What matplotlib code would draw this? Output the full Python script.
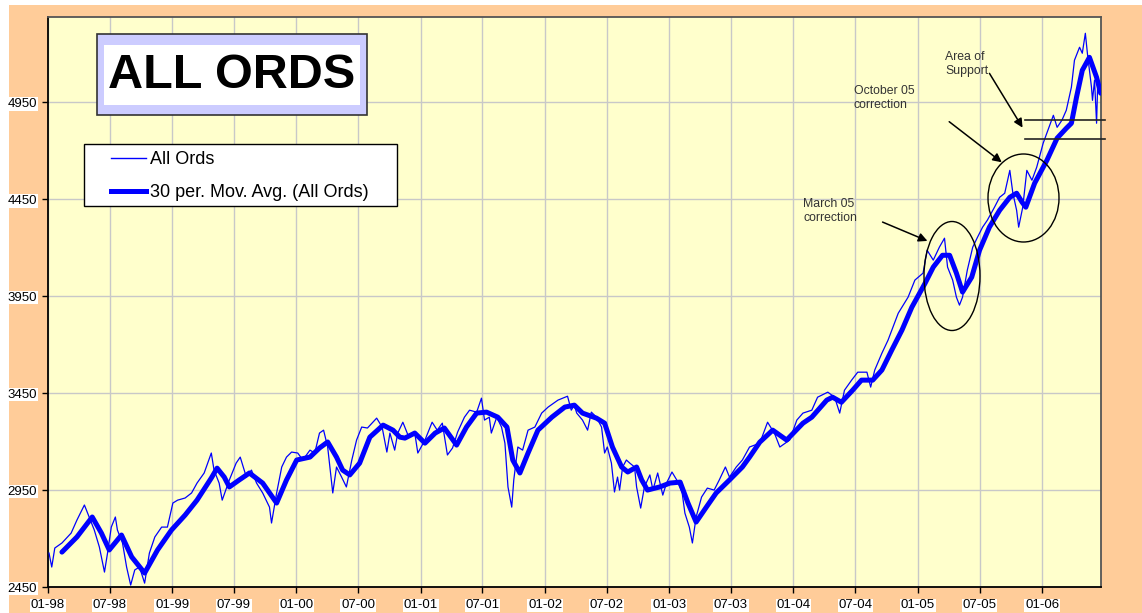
import matplotlib
matplotlib.use("Agg")
import matplotlib.pyplot as plt
import matplotlib.dates as mdates
from matplotlib.patches import Rectangle, Ellipse, FancyArrowPatch
from matplotlib.lines import Line2D
import pandas as pd

plt.rcParams["font.family"] = ["Liberation Sans", "DejaVu Sans"]

# All Ords daily close
raw_dates = [
    "1998-01-04", "1998-01-12", "1998-01-21", "1998-02-11", "1998-03-10", "1998-03-27",
    "1998-04-18", "1998-05-02", "1998-05-17", "1998-06-01", "1998-06-16", "1998-06-25",
    "1998-07-06", "1998-07-18", "1998-07-24", "1998-08-08", "1998-08-20", "1998-09-01",
    "1998-09-13", "1998-09-27", "1998-10-12", "1998-10-26", "1998-11-11", "1998-12-01",
    "1998-12-18", "1999-01-03", "1999-01-17", "1999-02-08", "1999-02-27", "1999-03-15",
    "1999-04-05", "1999-04-26", "1999-05-04", "1999-05-19", "1999-05-28", "1999-06-18",
    "1999-07-08", "1999-07-20", "1999-08-07", "1999-08-22", "1999-09-06", "1999-09-24",
    "1999-10-14", "1999-10-20", "1999-11-04", "1999-11-19", "1999-12-03", "1999-12-18",
    "2000-01-05", "2000-01-20", "2000-02-10", "2000-02-24", "2000-03-09", "2000-03-21",
    "2000-04-02", "2000-04-17", "2000-04-28", "2000-05-13", "2000-05-27", "2000-06-12",
    "2000-06-26", "2000-07-11", "2000-07-28", "2000-08-24", "2000-09-09", "2000-09-23",
    "2000-10-02", "2000-10-16", "2000-10-25", "2000-11-09", "2000-11-24", "2000-12-14",
    "2000-12-23", "2001-01-13", "2001-02-03", "2001-02-18", "2001-03-05", "2001-03-20",
    "2001-04-04", "2001-04-19", "2001-05-09", "2001-05-24", "2001-06-14", "2001-06-28",
    "2001-07-07", "2001-07-21", "2001-07-27", "2001-08-12", "2001-08-26", "2001-09-05",
    "2001-09-14", "2001-09-25", "2001-10-01", "2001-10-13", "2001-10-27", "2001-11-12",
    "2001-12-02", "2001-12-22", "2002-01-10", "2002-02-08", "2002-03-08", "2002-03-19",
    "2002-03-28", "2002-04-04", "2002-04-21", "2002-05-06", "2002-05-17", "2002-06-01",
    "2002-06-16", "2002-06-25", "2002-07-03", "2002-07-15", "2002-07-24", "2002-08-02",
    "2002-08-08", "2002-08-17", "2002-08-28", "2002-09-07", "2002-09-21", "2002-09-27",
    "2002-10-09", "2002-10-20", "2002-11-05", "2002-11-14", "2002-11-28", "2002-12-13",
    "2002-12-24", "2003-01-09", "2003-01-23", "2003-02-08", "2003-02-16", "2003-03-01",
    "2003-03-10", "2003-03-21", "2003-04-06", "2003-04-23", "2003-05-13", "2003-05-28",
    "2003-06-15", "2003-06-27", "2003-07-17", "2003-08-04", "2003-08-25", "2003-09-24",
    "2003-10-17", "2003-11-07", "2003-11-22", "2003-12-21", "2004-01-11", "2004-01-29",
    "2004-02-24", "2004-03-12", "2004-04-11", "2004-05-01", "2004-05-16", "2004-05-30",
    "2004-06-20", "2004-07-08", "2004-08-04", "2004-08-15", "2004-08-27", "2004-09-17",
    "2004-10-05", "2004-11-04", "2004-12-03", "2004-12-23", "2005-01-16", "2005-01-28",
    "2005-02-15", "2005-03-05", "2005-03-20", "2005-03-29", "2005-04-13", "2005-04-24",
    "2005-05-03", "2005-05-12", "2005-05-26", "2005-06-11", "2005-06-25", "2005-07-10",
    "2005-07-24", "2005-08-14", "2005-08-29", "2005-09-13", "2005-09-28", "2005-10-07",
    "2005-10-18", "2005-10-24", "2005-11-05", "2005-11-17", "2005-12-02", "2005-12-16",
    "2006-01-04", "2006-01-18", "2006-02-03", "2006-02-14", "2006-02-28", "2006-03-13",
    "2006-03-28", "2006-04-06", "2006-04-21", "2006-04-29", "2006-05-08", "2006-05-14",
    "2006-05-26", "2006-05-29", "2006-06-04", "2006-06-10", "2006-06-13", "2006-06-22",
]
raw_values = [
    2625, 2553, 2651, 2677, 2728, 2795,
    2873, 2811, 2744, 2656, 2527, 2625,
    2759, 2811, 2744, 2677, 2553, 2460,
    2538, 2553, 2470, 2625, 2708, 2759,
    2759, 2883, 2898, 2909, 2935, 2986,
    3038, 3141, 3053, 2986, 2898, 3002,
    3089, 3120, 3017, 3053, 2986, 2935,
    2862, 2780, 2935, 3069, 3120, 3146,
    3141, 3105, 3156, 3141, 3244, 3259,
    3172, 2935, 3069, 3017, 2966, 3105,
    3208, 3275, 3270, 3321, 3275, 3146,
    3244, 3156, 3244, 3300, 3234, 3244,
    3141, 3208, 3300, 3259, 3295, 3131,
    3167, 3249, 3326, 3362, 3352, 3424,
    3311, 3326, 3244, 3326, 3275, 3192,
    2966, 2862, 3002, 3172, 3156, 3259,
    3275, 3347, 3378, 3414, 3434, 3362,
    3388, 3347, 3311, 3259, 3352, 3326,
    3275, 3141, 3172, 3089, 2940, 3017,
    2950, 3069, 3105, 3089, 3069, 2966,
    2857, 2966, 3028, 2950, 3038, 2924,
    2986, 3043, 3002, 2935, 2831, 2759,
    2677, 2811, 2914, 2960, 2950, 3002,
    3069, 3017, 3069, 3105, 3172, 3192,
    3300, 3240, 3172, 3208, 3311, 3347,
    3362, 3429, 3455, 3429, 3347, 3465,
    3517, 3558, 3558, 3481, 3569, 3656,
    3723, 3862, 3945, 4033, 4069, 4187,
    4136, 4203, 4249, 4100, 4033, 3945,
    3904, 3945, 4084, 4203, 4254, 4306,
    4342, 4409, 4460, 4481, 4599, 4481,
    4393, 4306, 4409, 4599, 4548, 4615,
    4739, 4806, 4883, 4821, 4857, 4909,
    5028, 5167, 5234, 5203, 5306, 5203,
    5028, 4960, 5064, 4842, 5028, 4997,
]

# 30 period moving average
ma_dates = [
    "1998-02-11", "1998-03-27", "1998-05-11", "1998-06-07", "1998-06-30", "1998-08-05",
    "1998-09-04", "1998-10-12", "1998-11-19", "1998-12-30", "1999-02-08", "1999-03-15",
    "1999-04-26", "1999-05-13", "1999-06-03", "1999-06-18", "1999-07-17", "1999-08-16",
    "1999-09-24", "1999-11-04", "1999-12-03", "2000-01-02", "2000-02-10", "2000-03-09",
    "2000-04-02", "2000-04-28", "2000-05-16", "2000-06-06", "2000-07-05", "2000-08-04",
    "2000-09-12", "2000-10-11", "2000-10-31", "2000-11-15", "2000-12-14", "2001-01-13",
    "2001-02-12", "2001-03-11", "2001-04-16", "2001-05-15", "2001-06-14", "2001-07-13",
    "2001-08-15", "2001-09-11", "2001-09-28", "2001-10-19", "2001-11-12", "2001-12-11",
    "2002-01-21", "2002-02-28", "2002-03-28", "2002-04-21", "2002-06-01", "2002-06-25",
    "2002-07-18", "2002-08-14", "2002-09-01", "2002-09-27", "2002-10-12", "2002-10-29",
    "2002-12-04", "2003-01-03", "2003-02-02", "2003-02-25", "2003-03-21", "2003-04-20",
    "2003-05-19", "2003-06-27", "2003-08-04", "2003-08-25", "2003-09-24", "2003-11-01",
    "2003-12-12", "2004-01-29", "2004-02-24", "2004-04-08", "2004-04-25", "2004-05-21",
    "2004-06-23", "2004-07-19", "2004-08-21", "2004-09-17", "2004-10-16", "2004-11-15",
    "2004-12-14", "2005-01-22", "2005-02-15", "2005-03-14", "2005-04-04", "2005-04-24",
    "2005-05-12", "2005-06-08", "2005-07-01", "2005-07-30", "2005-08-29", "2005-09-28",
    "2005-10-18", "2005-11-03", "2005-11-14", "2005-12-10", "2006-01-15", "2006-02-14",
    "2006-03-13", "2006-03-28", "2006-04-12", "2006-04-29", "2006-05-20", "2006-06-10",
    "2006-06-22",
]
ma_values = [
    2630, 2708, 2811, 2728, 2641, 2718,
    2605, 2522, 2641, 2744, 2821, 2898,
    3012, 3063, 3017, 2966, 3002, 3038,
    2986, 2883, 3002, 3105, 3120, 3167,
    3198, 3120, 3053, 3028, 3089, 3223,
    3285, 3259, 3223, 3218, 3244, 3192,
    3244, 3270, 3182, 3275, 3347, 3352,
    3326, 3275, 3105, 3038, 3141, 3259,
    3326, 3378, 3388, 3347, 3321, 3295,
    3172, 3069, 3043, 3069, 3002, 2950,
    2966, 2986, 2991, 2883, 2785, 2862,
    2935, 3002, 3069, 3120, 3197, 3259,
    3208, 3295, 3326, 3414, 3429, 3403,
    3465, 3517, 3517, 3569, 3672, 3775,
    3893, 4017, 4100, 4161, 4161, 4069,
    3971, 4048, 4187, 4306, 4393, 4460,
    4481, 4435, 4409, 4533, 4651, 4765,
    4816, 4842, 4976, 5115, 5182, 5079,
    4997,
]

y_ticks = [2450, 2950, 3450, 3950, 4450, 4950]

BLUE = "#0000FF"
PEACH = "#FFCC99"
PLOT_BG = "#FFFFCC"
GRID = "#C8C8C8"

W, H = 1142, 613
fig = plt.figure(figsize=(W / 100, H / 100), dpi=100)
fig.patch.set_facecolor("white")
fig.patches.append(Rectangle((9 / W, 0), 1 - 9 / W, 1 - 5 / H, transform=fig.transFigure,
                             facecolor=PEACH, edgecolor="none", zorder=-10))


def fx(px):
    return px / W


def fy(py):
    return 1 - py / H


ax = fig.add_axes([fx(48), fy(587), (1101 - 48) / W, (587 - 17) / H])
ax.set_facecolor(PLOT_BG)

rd = pd.to_datetime(raw_dates)
md = pd.to_datetime(ma_dates)
ax.plot(rd, raw_values, color=BLUE, lw=0.9, zorder=3)
ax.plot(md, ma_values, color=BLUE, lw=3.6, solid_capstyle="round", zorder=4)

ax.set_xlim(pd.Timestamp("1998-01-01"), pd.Timestamp("2006-06-23"))
ax.set_ylim(2450, 5390)
ax.set_yticks(y_ticks)
ax.set_xticks(pd.date_range("1998-01-01", "2006-01-01", freq="6MS"))
ax.xaxis.set_major_formatter(mdates.DateFormatter("%m-%y"))
ax.grid(True, color=GRID, lw=1.0)
ax.set_axisbelow(True)

for s in ("top", "right"):
    ax.spines[s].set_color("#555555")
    ax.spines[s].set_linewidth(1.3)
for s in ("left", "bottom"):
    ax.spines[s].set_color("black")
    ax.spines[s].set_linewidth(1.3)

ax.tick_params(axis="both", direction="out", length=4, width=1, color="black",
               labelsize=9.5, labelcolor="black")
ax.tick_params(axis="y", pad=4)
ax.tick_params(axis="x", pad=5)
for lab in ax.get_xticklabels() + ax.get_yticklabels():
    lab.set_bbox(dict(facecolor="white", edgecolor="none", pad=0.6))

# legend: frame drawn by hand so the wide side padding matches
ax.add_patch(Rectangle(((84 - 48) / 1053, (587 - 206) / 570), (397 - 84) / 1053, 62 / 570,
                       transform=ax.transAxes, facecolor="white", edgecolor="black",
                       lw=1.0, zorder=9))
handles = [Line2D([], [], color=BLUE, lw=1.0),
           Line2D([], [], color=BLUE, lw=3.6)]
leg = ax.legend(handles, ["All Ords", "30 per. Mov. Avg. (All Ords)"],
                loc="upper left", bbox_to_anchor=((111 - 48) / 1053, (587 - 151) / 570),
                borderaxespad=0, borderpad=0, frameon=False,
                fontsize=13, handlelength=1.95, handletextpad=0.2, labelspacing=0.9)
leg.set_zorder(10)

# title box
fig.patches.append(Rectangle((fx(97), fy(115)), (367 - 97) / W, (115 - 34) / H,
                             transform=fig.transFigure, facecolor="#CCCCFF",
                             edgecolor="#333333", lw=1.2, zorder=20))
fig.patches.append(Rectangle((fx(104), fy(105)), (360 - 104) / W, (105 - 45) / H,
                             transform=fig.transFigure, facecolor="white",
                             edgecolor="none", zorder=21))
fig.text(fx(232), fy(75), "ALL ORDS", ha="center", va="center", fontsize=35,
         fontweight="bold", color="black", zorder=22)

# annotations
TXT = "#333333"
notes = [
    (803, 198, "March 05\ncorrection"),
    (854, 85, "October 05\ncorrection"),
    (945, 51, "Area of\nSupport"),
]
for px, py, s in notes:
    fig.text(fx(px), fy(py), s, ha="left", va="top", fontsize=8.8, color=TXT,
             linespacing=1.25, zorder=25)

arrows = [((880, 221), (930, 242)), ((947, 120), (1004, 164)), ((988, 71), (1024, 130))]
for (x0, y0), (x1, y1) in arrows:
    fig.patches.append(FancyArrowPatch((fx(x0), fy(y0)), (fx(x1), fy(y1)),
                                       transform=fig.transFigure, arrowstyle="-|>",
                                       mutation_scale=13, color="black", lw=1.1, zorder=25))

for cx, cy, w, h in [(952, 276, 56, 109), (1023.5, 198, 71, 88)]:
    fig.patches.append(Ellipse((fx(cx), fy(cy)), w / W, h / H, transform=fig.transFigure,
                               facecolor="none", edgecolor="black", lw=1.0, zorder=25))

for py in (120, 139):
    fig.add_artist(Line2D([fx(1025), fx(1105)], [fy(py), fy(py)], transform=fig.transFigure,
                          color="#222222", lw=1.2, zorder=25))

fig.savefig("out.png", dpi=100, facecolor=fig.get_facecolor())
